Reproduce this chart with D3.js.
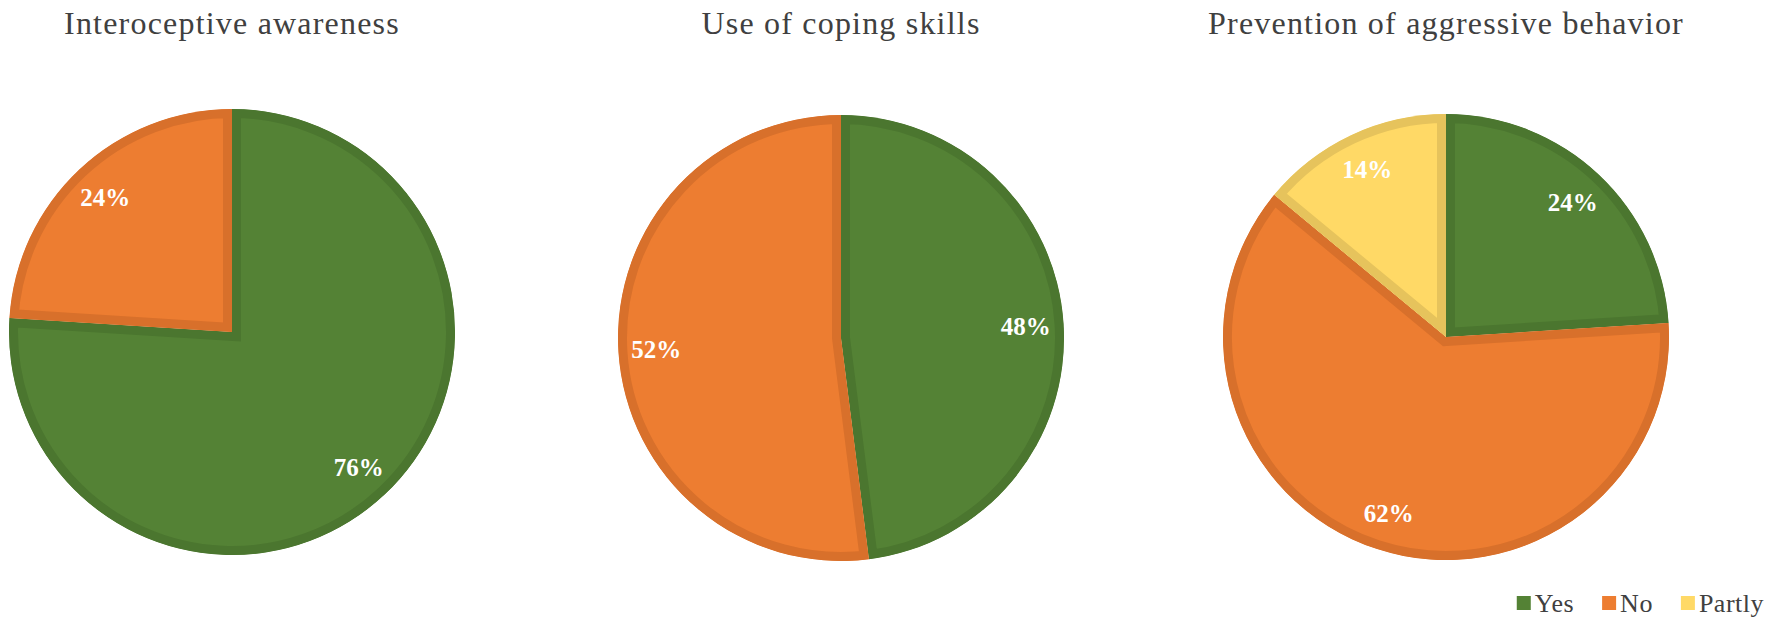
<!DOCTYPE html>
<html>
<head>
<meta charset="utf-8">
<script src="https://cdn.jsdelivr.net/npm/d3@7"></script>
<style>
  body { margin: 0; background: #fff; }
  text { font-family: "Liberation Serif", "Times New Roman", serif; }
</style>
</head>
<body>
<svg id="area" width="1772" height="634"></svg>
<script>

// answers, in the order Yes / No / Partly
let categories = ["Yes", "No", "Partly"];
let titles = ["Interoceptive awareness", "Use of coping skills", "Prevention of aggressive behavior"];
let interoceptive = [76, 24, 0];
let coping = [48, 52, 0];
let aggression = [24, 62, 14];

let series = [interoceptive, coping, aggression];

let svg = d3.select("#area");

let color = d3.scaleOrdinal()
    .domain(categories)
    .range(["#548235", "#ed7d31", "#ffd966"]);
let edge = d3.scaleOrdinal()
    .domain(categories)
    .range(["#4b762f", "#d8702b", "#e6c35c"]);

// layout of the three panels
let centers = [[232, 332], [841, 338], [1446, 337]];
let radius = 223;
let border = 9;

let pie = d3.pie()
    .sort(null)
    .startAngle(0)
    .endAngle(2 * Math.PI)
    .value(function(d) { return d.value; });

let arc = d3.arc().innerRadius(0).outerRadius(radius);
let labelArc = d3.arc().innerRadius(radius * 0.83).outerRadius(radius * 0.83);

series.forEach(function(values, i) {

    let data = categories.map(function(c, j) {
        return { key: c, value: values[j] };
    }).filter(function(d) { return d.value > 0; });

    svg.append("text")
        .attr("x", centers[i][0])
        .attr("y", 34)
        .attr("text-anchor", "middle")
        .style("font-size", "32px")
        .style("letter-spacing", "1.2px")
        .style("fill", "#404040")
        .text(titles[i]);

    let g = svg.append("g")
        .attr("transform", "translate(" + centers[i][0] + "," + centers[i][1] + ")");

    let slices = pie(data);

    let defs = svg.append("defs");
    slices.forEach(function(s, j) {
        defs.append("clipPath")
            .attr("id", "clip" + i + "_" + j)
            .append("path")
            .attr("d", arc(s));
    });

    g.selectAll(".slice")
        .data(slices)
        .enter()
        .append("path")
        .attr("class", "slice")
        .attr("d", arc)
        .attr("clip-path", function(d, j) { return "url(#clip" + i + "_" + j + ")"; })
        .style("fill", function(d) { return color(d.data.key); })
        .style("stroke", function(d) { return edge(d.data.key); })
        .style("stroke-width", border * 2)
        .style("stroke-linejoin", "miter");

    g.selectAll(".label")
        .data(slices)
        .enter()
        .append("text")
        .attr("class", "label")
        .attr("transform", function(d) { return "translate(" + labelArc.centroid(d) + ")"; })
        .attr("text-anchor", "middle")
        .attr("dy", "0.35em")
        .style("font-size", "25px")
        .style("font-weight", "bold")
        .style("fill", "#fff")
        .text(function(d) { return d.data.value + "%"; });
});

// legend, bottom right, right edge at 1762
let legend = svg.append("g");
let lx = 0;
categories.forEach(function(c) {
    legend.append("rect")
        .attr("x", lx)
        .attr("y", -16)
        .attr("width", 14)
        .attr("height", 14)
        .style("fill", color(c));
    let t = legend.append("text")
        .attr("x", lx + 18)
        .attr("y", 0)
        .style("font-size", "26px")
        .style("letter-spacing", "0.5px")
        .style("fill", "#404040")
        .text(c);
    lx += 18 + t.node().getComputedTextLength() + 28;
});
lx -= 28;
legend.attr("transform", "translate(" + (1764 - lx) + ",612)");

</script>
</body>
</html>
